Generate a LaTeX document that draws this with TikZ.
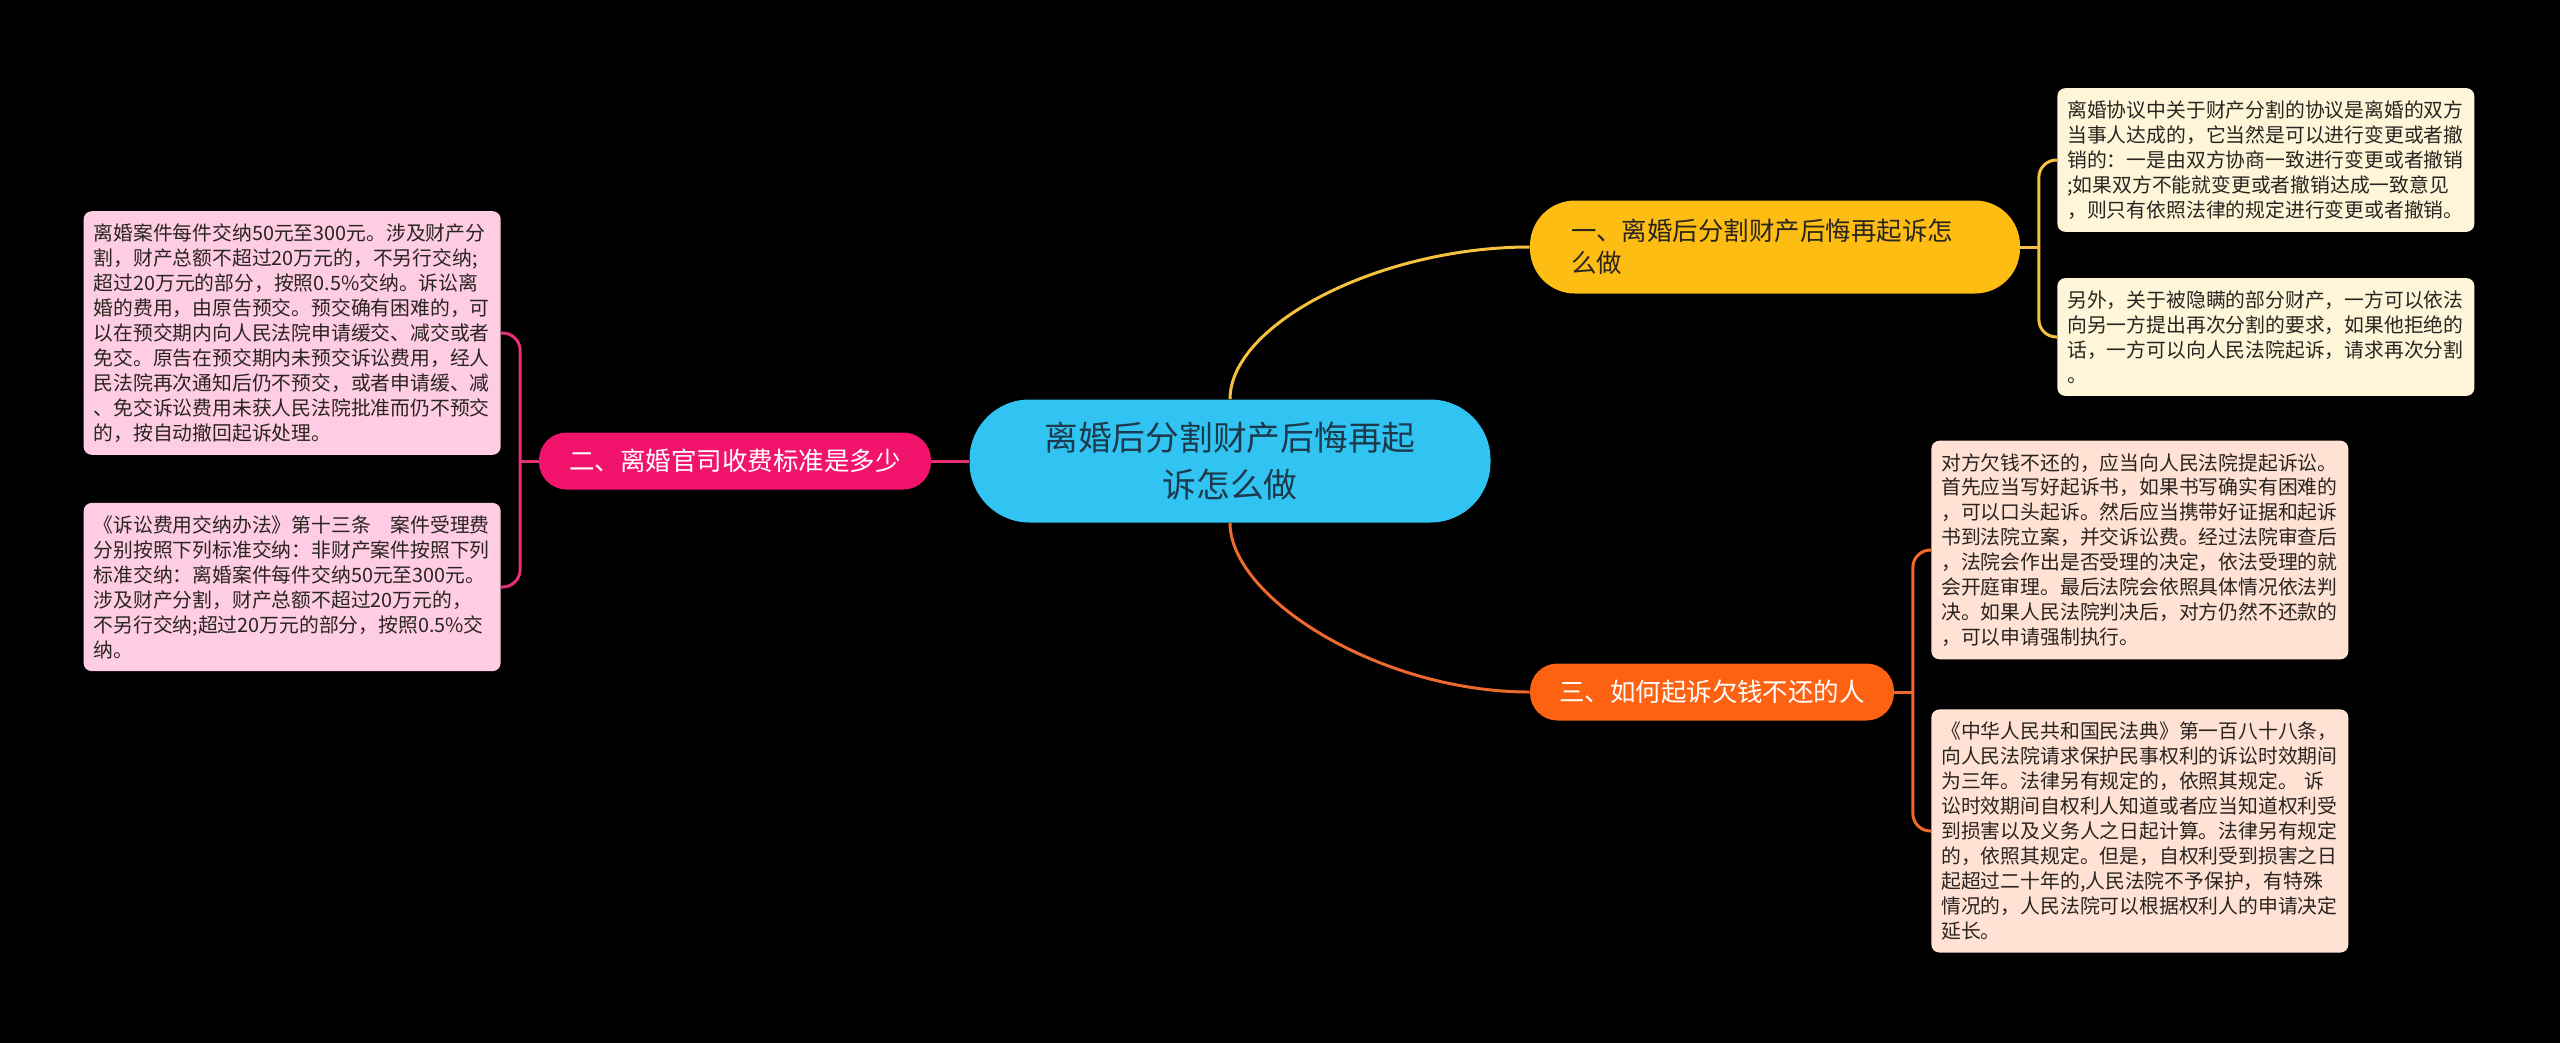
\documentclass[tikz,border=0pt]{standalone}
\usepackage{fontspec}
\setmainfont{Noto Sans CJK SC}
\usepackage{tikz}
\usetikzlibrary{positioning,calc}
\definecolor{Sky}{HTML}{31C4F3}
\definecolor{Navy}{HTML}{1D3A4C}
\definecolor{Rose}{HTML}{F2146C}
\definecolor{Amber}{HTML}{FDBD13}
\definecolor{Tangerine}{HTML}{FC6212}
\definecolor{SoftAmber}{HTML}{FFF6DA}
\definecolor{SoftTangerine}{HTML}{FFE2D4}
\definecolor{SoftRose}{HTML}{FFCDE3}
\definecolor{Ink}{HTML}{2A2420}
\definecolor{AmberLine}{HTML}{F4C23E}
\definecolor{TangerineLine}{HTML}{EE6A2C}
\definecolor{RoseLine}{HTML}{E62F78}

\begin{document}
\begin{tikzpicture}[
  leafbox/.style={rounded corners=0.16cm,text width=7.94cm,inner xsep=0.2cm,inner ysep=0.25cm,align=left,text=Ink,font=\fontsize{11.27pt}{14.2pt}\selectfont},
  topicbox/.style={rounded corners=0.55cm,minimum height=1.14cm,inner sep=0pt,font=\fontsize{14.5pt}{18.2pt}\selectfont},
  link/.style={line width=1.7pt}
]
  \fill[black] (0,0) rectangle (51.2,-20.86);
  \useasboundingbox (0,0) rectangle (51.2,-20.86);

  % centre
  \node[fill=Sky,text=Navy,rounded corners=1.2cm,minimum width=10.42cm,minimum height=2.46cm,align=center,font=\fontsize{19.2pt}{26.5pt}\selectfont] (root) at (24.6,-9.22)
  {离婚后分割财产后悔再起\\诉怎么做};

  % topics
  \node[topicbox,fill=Rose,text=white,minimum width=7.84cm] (fee) at (14.7,-9.22) {二、离婚官司收费标准是多少};
  \node[topicbox,fill=Amber,text=Ink,rounded corners=0.9cm,minimum height=1.86cm,text width=8.16cm,inner xsep=0.82cm,align=left] (regret) at (35.5,-4.94)
  {一、离婚后分割财产后悔再起诉怎\\么做};
  \node[topicbox,fill=Tangerine,text=white,minimum width=7.28cm] (debt) at (34.24,-13.84) {三、如何起诉欠钱不还的人};

  % leaves
  \node[leafbox,fill=SoftAmber,anchor=west] (regretA) at (41.14,-3.2)
  {离婚协议中关于财产分割的协议是离婚的双方\\当事人达成的，它当然是可以进行变更或者撤\\销的：一是由双方协商一致进行变更或者撤销\\;如果双方不能就变更或者撤销达成一致意见\\，则只有依照法律的规定进行变更或者撤销。};
  \node[leafbox,fill=SoftAmber,anchor=west] (regretB) at (41.14,-6.74)
  {另外，关于被隐瞒的部分财产，一方可以依法\\向另一方提出再次分割的要求，如果他拒绝的\\话，一方可以向人民法院起诉，请求再次分割\\。};
  \node[leafbox,fill=SoftTangerine,anchor=west] (debtA) at (38.62,-11.0)
  {对方欠钱不还的，应当向人民法院提起诉讼。\\首先应当写好起诉书，如果书写确实有困难的\\，可以口头起诉。然后应当携带好证据和起诉\\书到法院立案，并交诉讼费。经过法院审查后\\，法院会作出是否受理的决定，依法受理的就\\会开庭审理。最后法院会依照具体情况依法判\\决。如果人民法院判决后，对方仍然不还款的\\，可以申请强制执行。};
  \node[leafbox,fill=SoftTangerine,anchor=west] (debtB) at (38.62,-16.62)
  {《中华人民共和国民法典》第一百八十八条，\\向人民法院请求保护民事权利的诉讼时效期间\\为三年。法律另有规定的，依照其规定。 诉\\讼时效期间自权利人知道或者应当知道权利受\\到损害以及义务人之日起计算。法律另有规定\\的，依照其规定。但是，自权利受到损害之日\\起超过二十年的,人民法院不予保护，有特殊\\情况的，人民法院可以根据权利人的申请决定\\延长。};
  \node[leafbox,fill=SoftRose,anchor=east] (feeA) at (10.02,-6.66)
  {离婚案件每件交纳50元至300元。涉及财产分\\割，财产总额不超过20万元的，不另行交纳;\\超过20万元的部分，按照0.5\%交纳。诉讼离\\婚的费用，由原告预交。预交确有困难的，可\\以在预交期内向人民法院申请缓交、减交或者\\免交。原告在预交期内未预交诉讼费用，经人\\民法院再次通知后仍不预交，或者申请缓、减\\、免交诉讼费用未获人民法院批准而仍不预交\\的，按自动撤回起诉处理。};
  \node[leafbox,fill=SoftRose,anchor=east] (feeB) at (10.02,-11.74)
  {《诉讼费用交纳办法》第十三条\quad 案件受理费\\分别按照下列标准交纳：非财产案件按照下列\\标准交纳：离婚案件每件交纳50元至300元。\\涉及财产分割，财产总额不超过20万元的，\\不另行交纳;超过20万元的部分，按照0.5\%交\\纳。};

  % links from the centre
  \draw[link,AmberLine] (root.north) .. controls ($(root.north)+(0,1.5)$) and ($(regret.west)+(-3,0)$) .. (regret.west);
  \draw[link,TangerineLine] (root.south) .. controls ($(root.south)+(0,-1.5)$) and ($(debt.west)+(-3,0)$) .. (debt.west);
  \draw[link,RoseLine] (root.west) -- (fee.east);

  % brackets to the leaves
  \coordinate (regretJ) at ($(regret.east)+(0.37,0)$);
  \coordinate (debtJ) at ($(debt.east)+(0.37,0)$);
  \coordinate (feeJ) at ($(fee.west)+(-0.37,0)$);
  \draw[link,AmberLine] (regret.east) -- (regretJ);
  \draw[link,AmberLine,rounded corners=0.35cm] (regretJ) |- (regretA.west);
  \draw[link,AmberLine,rounded corners=0.35cm] (regretJ) |- (regretB.west);
  \draw[link,TangerineLine] (debt.east) -- (debtJ);
  \draw[link,TangerineLine,rounded corners=0.35cm] (debtJ) |- (debtA.west);
  \draw[link,TangerineLine,rounded corners=0.35cm] (debtJ) |- (debtB.west);
  \draw[link,RoseLine] (fee.west) -- (feeJ);
  \draw[link,RoseLine,rounded corners=0.35cm] (feeJ) |- (feeA.east);
  \draw[link,RoseLine,rounded corners=0.35cm] (feeJ) |- (feeB.east);
\end{tikzpicture}
\end{document}
